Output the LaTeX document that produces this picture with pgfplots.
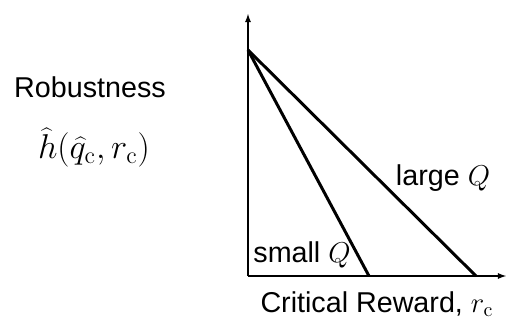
\documentclass[border=0pt]{standalone}
\usepackage[no-math]{fontspec}
\setmainfont{Liberation Sans}
\usepackage{pgfplots}
\pgfplotsset{compat=1.18}
\usetikzlibrary{arrows.meta}

\begin{document}
\begin{tikzpicture}
% canvas: 1 px of the reference = 0.5bp, origin at the corner of the axes
\useasboundingbox (-124bp,-23.5bp) rectangle (130bp,138bp);

\begin{axis}[
    anchor=origin, at={(0,0)},
    x=0.5bp, y=0.5bp,
    xmin=0, xmax=259,
    ymin=0, ymax=263,
    axis lines=left,
    xtick=\empty, ytick=\empty,
    axis line style={line width=1pt, -{Latex[length=4.5bp,width=3bp]}},
    clip=false,
]

\addplot[black, line width=1.5pt] coordinates {(0,226) (121,0)};
\addplot[black, line width=1.5pt] coordinates {(0,226) (228,0)};

\tikzset{lbl/.style={anchor=base, inner sep=0pt, font=\fontsize{14.4}{17}\selectfont}}
\node[lbl] at (axis cs:-158,179) {Robustness};
\node[lbl, font=\fontsize{17}{20}\selectfont] at (axis cs:-154,118)
    {$\widehat{h}(\widehat{q}_\mathrm{c}, r_\mathrm{c})$};
\node[lbl] at (axis cs:195,91) {large $Q$};
\node[lbl] at (axis cs:54,14) {small $Q$};
\node[lbl] at (axis cs:129,-36) {Critical Reward, $r_\mathrm{c}$};

\end{axis}
\end{tikzpicture}
\end{document}
